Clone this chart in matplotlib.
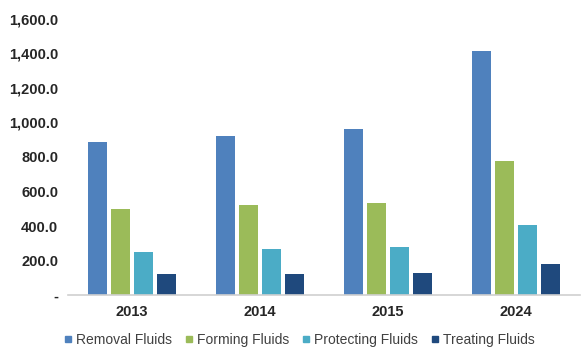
import matplotlib
matplotlib.use("Agg")
import matplotlib.pyplot as plt
import numpy as np
from matplotlib.ticker import FuncFormatter
from matplotlib.lines import Line2D

years = ["2013", "2014", "2015", "2024"]
series_names = ["Removal Fluids", "Forming Fluids", "Protecting Fluids", "Treating Fluids"]
removal = [886, 919, 960, 1412]
forming = [501, 522, 536, 776]
protecting = [250, 268, 276, 405]
treating = [120, 120, 129, 179]
colors = ["#4F81BD", "#9BBB59", "#4BACC6", "#1F497D"]

plt.rcParams['font.family'] = ['Liberation Sans', 'DejaVu Sans']

fig = plt.figure(figsize=(5.82, 3.5), dpi=100)
ax = fig.add_axes([0.117, 0.157, 0.88, 0.789])

x = np.arange(len(years))
pitch = 0.179
width = 0.148
data = [removal, forming, protecting, treating]
for i, (vals, c) in enumerate(zip(data, colors)):
    ax.bar(x + (i - 1.5) * pitch, vals, width, color=c, label=series_names[i])

ax.set_xlim(-0.5, 3.5)
ax.set_ylim(0, 1600)
ax.set_yticks(np.arange(0, 1601, 200))
ax.yaxis.set_major_formatter(FuncFormatter(lambda v, p: "-" if v == 0 else f"{v:,.1f}"))
ax.set_xticks(x)
ax.set_xticklabels(years)
for lab in ax.get_yticklabels() + ax.get_xticklabels():
    lab.set_fontweight('bold')
    lab.set_fontsize(10.5)
    lab.set_color('#262626')
ax.tick_params(length=0)
ax.tick_params(axis='y', pad=7)
ax.tick_params(axis='x', pad=7)
for s in ['top', 'right', 'left']:
    ax.spines[s].set_visible(False)
ax.spines['bottom'].set_color('#d0d0d0')
ax.spines['bottom'].set_linewidth(1.2)

handles = [Line2D([], [], marker='s', linestyle='none', markersize=5, color=c) for c in colors]
fig.legend(handles, series_names, loc='center', bbox_to_anchor=(0.515, 0.028), ncol=4,
           frameon=False, fontsize=10, handlelength=0.5, handletextpad=0.35,
           columnspacing=0.95, labelcolor='#404040', borderpad=0)

fig.savefig("out.png", dpi=100)
